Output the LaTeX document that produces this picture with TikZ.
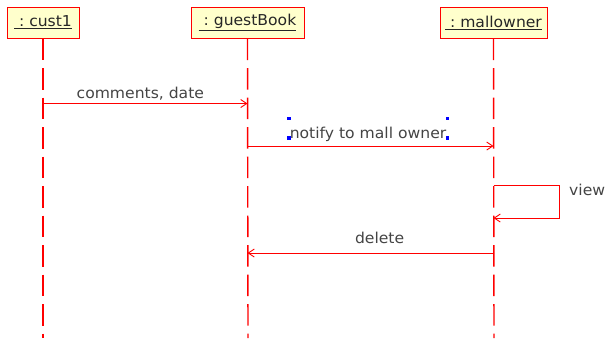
\documentclass[tikz,border=0pt]{standalone}
\usepackage{fontspec}
\setmainfont{DejaVu Sans}[FakeStretch=1.04]
\usetikzlibrary{arrows.meta}
\definecolor{objfill}{HTML}{FFFFCC}
\definecolor{msgtext}{HTML}{444444}
\tikzset{
  object/.style={draw=red, fill=objfill, line width=1pt, minimum height=31pt,
    inner sep=0pt, text=black!85, font=\fontsize{15}{17}\selectfont},
  lifeline/.style={draw=red, line width=1.4pt, dash pattern=on 21.5pt off 8pt},
  msg/.style={draw=red, line width=0.9pt, -{Straight Barb[length=6pt,width=8pt]}},
  msglabel/.style={text=msgtext, font=\fontsize{15}{17}\selectfont, anchor=base, inner sep=0pt}
}
\newcommand{\mymessage}[6]
{
\draw[msg] (#1 |- 0,#3) -- (#2 |- 0,#3)
node[msglabel, pos=#5, yshift=#6pt]{#4};
}

\begin{document}
\begin{tikzpicture}[x=1pt, y=-1pt]
  \useasboundingbox (0,0) rectangle (606,338);

  \node[object, minimum width=72pt] (cust1) at (43,22.5) {\underline{\ :\ cust1}};
  \node[object, minimum width=113pt] (guestBook) at (247.5,22.5) {\underline{\ :\ guestBook}};
  \node[object, minimum width=107pt] (mallowner) at (493.5,22.5) {\underline{\ :\ mallowner}};

  \coordinate (cust1end) at (43,338);
  \coordinate (guestBookend) at (248,338);
  \coordinate (mallownerend) at (494,338);
  \draw[lifeline] (cust1.south) -- (cust1end);
  \draw[lifeline] (guestBook.south) -- (guestBookend);
  \draw[lifeline] (mallowner.south) -- (mallownerend);

  \mymessage{cust1}{guestBook}{103.5}{comments, date}{0.476}{5.5}
  \mymessage{guestBook}{mallowner}{146}{notify to mall owner}{0.49}{8}
  \mymessage{mallowner}{guestBook}{253}{delete}{0.463}{10}

  % selection handles
  \foreach \hx/\hy in {289/118.5, 447.5/118.5, 289/138, 447.5/138}
    \fill[blue] (\hx-1.8,\hy-1.8) rectangle (\hx+1.8,\hy+1.8);

  % self message
  \coordinate (viewtop) at (559,185.5);
  \coordinate (viewbot) at (559,218);
  \draw[msg] (mallowner |- viewtop) -- (viewtop) -- (viewbot) -- (mallowner |- viewbot);
  \node[msglabel, anchor=base west] (view) at (569,195) {view};
\end{tikzpicture}
\end{document}
